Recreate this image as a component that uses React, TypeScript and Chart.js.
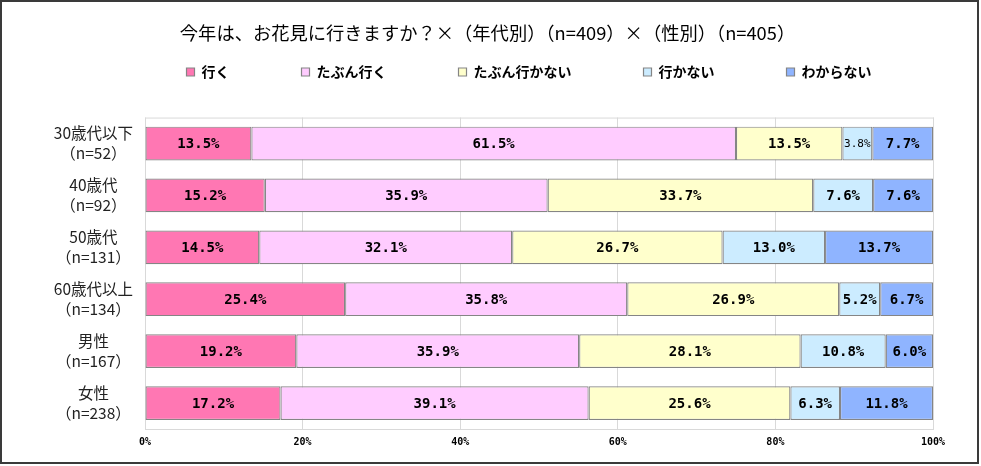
import React, { useEffect, useRef } from "react";
import { Chart, registerables } from "chart.js";

Chart.register(...registerables);

const categories: string[][] = [
  ["30歳代以下", "（n=52）"],
  ["40歳代", "（n=92）"],
  ["50歳代", "（n=131）"],
  ["60歳代以上", "（n=134）"],
  ["男性", "（n=167）"],
  ["女性", "（n=238）"],
];

const seriesNames = ["行く", "たぶん行く", "たぶん行かない", "行かない", "わからない"];
const seriesColors = ["#FF77B3", "#FFCCFF", "#FFFFCC", "#CCECFF", "#8FB4FF"];

const goValues = [13.5, 15.2, 14.5, 25.4, 19.2, 17.2];
const probablyGoValues = [61.5, 35.9, 32.1, 35.8, 35.9, 39.1];
const probablyNotValues = [13.5, 33.7, 26.7, 26.9, 28.1, 25.6];
const notGoValues = [3.8, 7.6, 13.0, 5.2, 10.8, 6.3];
const unknownValues = [7.7, 7.6, 13.7, 6.7, 6.0, 11.8];

const xTicks = [0, 20, 40, 60, 80, 100];

const titleText = "今年は、お花見に行きますか？×（年代別）（n=409）×（性別）（n=405）";

const JP = "'Noto Sans CJK JP', 'Noto Sans', sans-serif";
const MONO = "'DejaVu Sans Mono', monospace";

const LEGEND_PAD = 72;

const dataLabelPlugin = {
  id: "dataLabels",
  afterDatasetsDraw(chart: any) {
    const ctx = chart.ctx;
    ctx.save();
    ctx.textAlign = "center";
    ctx.textBaseline = "middle";
    ctx.fillStyle = "#000";
    chart.data.datasets.forEach((ds: any, di: number) => {
      const meta = chart.getDatasetMeta(di);
      meta.data.forEach((el: any, i: number) => {
        const v = ds.data[i];
        const text = v.toFixed(1) + "%";
        const w = Math.abs(el.x - el.base);
        ctx.font = `bold 14px ${MONO}`;
        if (ctx.measureText(text).width > w - 4) {
          ctx.font = `11px ${MONO}`;
        }
        ctx.fillText(text, (el.x + el.base) / 2, el.y + 1);
      });
    });
    ctx.restore();
  },
};

const framePlugin = {
  id: "frame",
  afterInit(chart: any) {
    // place title / legend like the reference (shift drawing only)
    const lg = chart.legend;
    if (lg) {
      const origFit = lg.fit.bind(lg);
      lg.fit = function () {
        origFit();
        this.height = 61;
      };
      const orig_draw = lg._draw.bind(lg);
      lg._draw = function () {
        const c = this.ctx;
        const itemH = 14;
        const dy = 72 - (this.top + LEGEND_PAD + itemH / 2);
        c.save();
        c.translate(62.5, dy);
        orig_draw();
        c.restore();
      };
    }
    const tt = chart.titleBlock;
    if (tt) {
      const origDrawT = tt.draw.bind(tt);
      tt.draw = function () {
        const c = this.ctx;
        c.save();
        c.translate(21, 0);
        origDrawT();
        c.restore();
      };
    }
  },
  beforeDatasetsDraw(chart: any) {
    const { ctx, chartArea } = chart;
    ctx.save();
    ctx.strokeStyle = "#d9d9d9";
    ctx.lineWidth = 1;
    ctx.strokeRect(chartArea.left + 0.5, chartArea.top + 0.5, chartArea.right - chartArea.left, chartArea.bottom - chartArea.top);
    ctx.restore();
  },
  afterDraw(chart: any) {
    const ctx = chart.ctx;
    ctx.save();
    ctx.strokeStyle = "#3a3a3a";
    ctx.lineWidth = 2;
    ctx.strokeRect(1, 1, 977, 462);
    ctx.restore();
  },
};

export default function App() {
  const ref = useRef<HTMLCanvasElement | null>(null);

  useEffect(() => {
    document.body.style.margin = "0";
    const canvas = ref.current;
    if (!canvas) return;
    const valueSets = [goValues, probablyGoValues, probablyNotValues, notGoValues, unknownValues];
    const chart = new Chart(canvas, {
      type: "bar",
      data: {
        labels: categories,
        datasets: seriesNames.map((name, i) => ({
          label: name,
          data: valueSets[i],
          backgroundColor: seriesColors[i],
          borderColor: "#858585",
          borderWidth: 1.2,
          borderSkipped: false,
          categoryPercentage: 1,
          barPercentage: 0.65,
        })),
      },
      options: {
        indexAxis: "y",
        animation: false,
        responsive: true,
        maintainAspectRatio: false,
        layout: { padding: { left: 0, right: 48, top: 0, bottom: 11 } },
        plugins: {
          title: {
            display: true,
            text: titleText,
            color: "#000",
            font: { family: JP, size: 18.3, weight: "normal" },
            padding: { top: 22, bottom: 12.6 },
          },
          legend: {
            display: true,
            position: "top",
            labels: {
              boxWidth: 8,
              boxHeight: 8,
              padding: LEGEND_PAD,
              color: "#000",
              font: { family: JP, size: 14, weight: "bold" },
            },
          },
          tooltip: { enabled: false },
        },
        scales: {
          x: {
            stacked: true,
            min: 0,
            max: 100,
            afterBuildTicks(scale: any) {
              scale.ticks = xTicks.map((v) => ({ value: v }));
            },
            ticks: {
              callback: (v: any) => v + "%",
              color: "#000",
              font: { family: MONO, size: 10, weight: "bold" },
              padding: 7,
              maxRotation: 0,
            },
            grid: { color: "#d9d9d9", drawTicks: false },
            border: { display: false },
          },
          y: {
            stacked: true,
            afterFit(scale: any) {
              scale.width = 145;
            },
            ticks: {
              crossAlign: "center",
              padding: 12,
              color: "#222",
              font: { family: JP, size: 15.5, lineHeight: 1.3 },
            },
            grid: { display: false, drawTicks: false },
            border: { display: false },
          },
        },
      },
      plugins: [framePlugin, dataLabelPlugin],
    });
    return () => chart.destroy();
  }, []);

  return (
    <div style={{ width: 981, height: 466, position: "relative" }}>
      <canvas ref={ref} />
    </div>
  );
}
